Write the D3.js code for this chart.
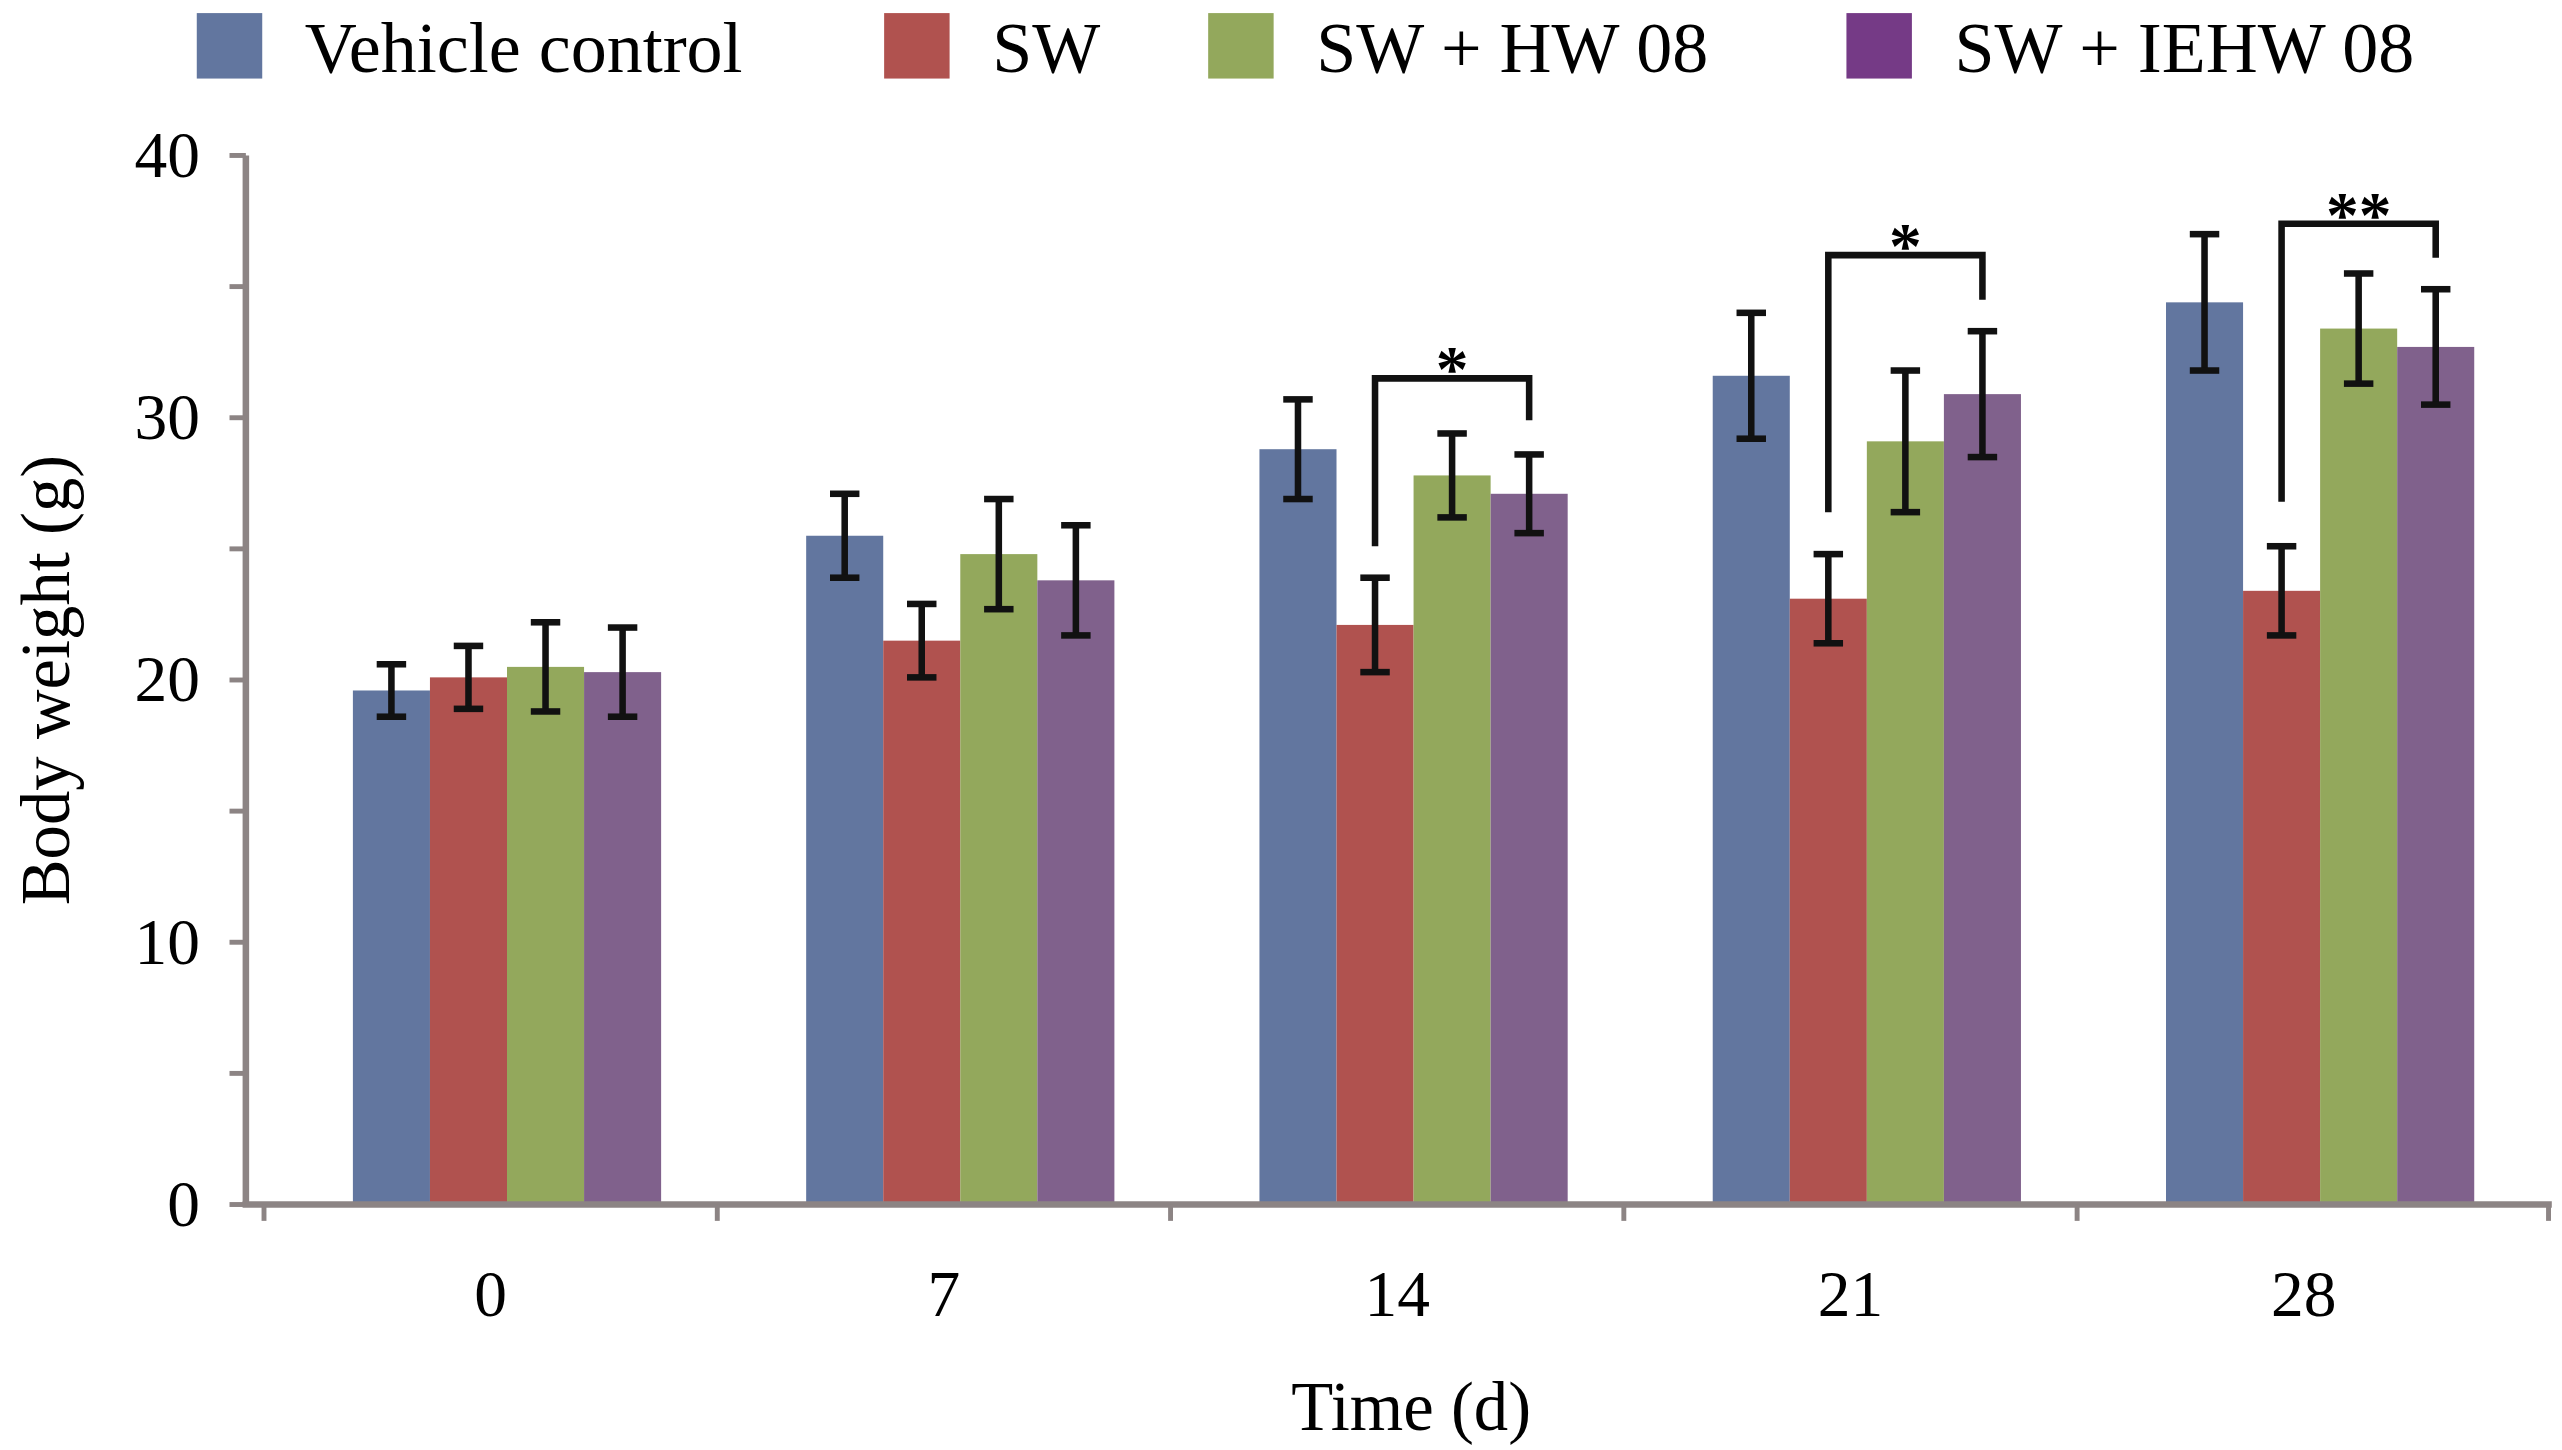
<!DOCTYPE html>
<html><head><meta charset="utf-8">
<script src="https://cdn.jsdelivr.net/npm/d3@7"></script>
<style>body{margin:0;background:#fff}svg{display:block}</style>
</head><body>
<svg id="chart" width="2562" height="1450" viewBox="0 0 1565 886"></svg>
<script>
const days = ['0', '7', '14', '21', '28'];
const groups = ['Vehicle control', 'SW', 'SW + HW 08', 'SW + IEHW 08'];
const colors = ['#62769f', '#b0524f', '#93a85c', '#80618c'];
const legendColors = ['#62769f', '#b0524f', '#93a85c', '#753a86'];
const means = [
    [19.6, 20.1, 20.5, 20.3],
    [25.5, 21.5, 24.8, 23.8],
    [28.8, 22.1, 27.8, 27.1],
    [31.6, 23.1, 29.1, 30.9],
    [34.4, 23.4, 33.4, 32.7]
];
const errors = [
    [1.0, 1.2, 1.7, 1.7],
    [1.6, 1.4, 2.1, 2.1],
    [1.9, 1.8, 1.6, 1.5],
    [2.4, 1.7, 2.7, 2.4],
    [2.6, 1.7, 2.1, 2.2]
];
// significance brackets: day index, left foot, top, right foot, label
const sigDay = [2, 3, 4];
const sigLeft = [25.1, 26.4, 26.8];
const sigTop = [31.5, 36.2, 37.4];
const sigRight = [29.9, 34.5, 36.1];
const sigLabel = ['*', '*', '**'];
const yTicks = [0, 10, 20, 30, 40];

const svg = d3.select('#chart');
const font = 'Liberation Serif, Times New Roman, serif';
const axisColor = '#8c8484';

const x = d3.scaleBand().domain(days).range([150, 1557]).paddingInner(0.32).paddingOuter(0.2);
const xs = d3.scaleBand().domain(groups).range([0, x.bandwidth()]);
const y = d3.scaleLinear().domain([0, 40]).range([736, 95]);
const shift = 10;

// bars
days.forEach((d, i) => {
    const g = svg.append('g').attr('transform', `translate(${x(d) + shift},0)`);
    groups.forEach((s, j) => {
        g.append('rect')
            .attr('x', xs(s)).attr('width', xs.bandwidth())
            .attr('y', y(means[i][j])).attr('height', y(0) - y(means[i][j]))
            .attr('fill', colors[j]);
    });
    groups.forEach((s, j) => {
        const cx = xs(s) + xs.bandwidth() / 2;
        const lo = y(means[i][j] - errors[i][j]), hi = y(means[i][j] + errors[i][j]);
        g.append('line').attr('x1', cx).attr('x2', cx).attr('y1', lo).attr('y2', hi)
            .attr('stroke', '#111').attr('stroke-width', 4);
        [lo, hi].forEach(v => g.append('line').attr('x1', cx - 9).attr('x2', cx + 9)
            .attr('y1', v).attr('y2', v).attr('stroke', '#111').attr('stroke-width', 4));
    });
});

// significance brackets
sigDay.forEach((di, k) => {
    const base = x(days[di]) + shift;
    const x1 = base + xs(groups[1]) + xs.bandwidth() / 2;
    const x2 = base + xs(groups[3]) + xs.bandwidth() / 2;
    svg.append('path')
        .attr('d', `M${x1},${y(sigLeft[k])}V${y(sigTop[k])}H${x2}V${y(sigRight[k])}`)
        .attr('fill', 'none').attr('stroke', '#111').attr('stroke-width', 4);
    svg.append('text').attr('x', (x1 + x2) / 2).attr('y', y(sigTop[k]) + 8)
        .attr('text-anchor', 'middle').attr('font-family', font).attr('font-size', 40)
        .attr('font-weight', 'bold').text(sigLabel[k]);
});

// y axis
svg.append('line').attr('x1', 150).attr('x2', 150).attr('y1', y(40)).attr('y2', y(0))
    .attr('stroke', axisColor).attr('stroke-width', 4);
d3.range(0, 41, 5).forEach(v => svg.append('line').attr('x1', 140).attr('x2', 150)
    .attr('y1', y(v)).attr('y2', y(v)).attr('stroke', axisColor).attr('stroke-width', 3));
yTicks.forEach(v => svg.append('text').attr('x', 122).attr('y', y(v) + 13)
    .attr('text-anchor', 'end').attr('font-family', font).attr('font-size', 40).text(v));

// x axis
svg.append('line').attr('x1', 148).attr('x2', 1559).attr('y1', y(0)).attr('y2', y(0))
    .attr('stroke', axisColor).attr('stroke-width', 4);
days.forEach((d, i) => {
    const left = x(d) - x.step() * x.paddingInner() / 2;
    svg.append('line').attr('x1', left).attr('x2', left).attr('y1', y(0)).attr('y2', y(0) + 10)
        .attr('stroke', axisColor).attr('stroke-width', 3);
    svg.append('text').attr('x', x(d) + shift - 10 + x.bandwidth() / 2).attr('y', 804)
        .attr('text-anchor', 'middle').attr('font-family', font).attr('font-size', 40).text(d);
});
svg.append('line').attr('x1', 1557).attr('x2', 1557).attr('y1', y(0)).attr('y2', y(0) + 10)
    .attr('stroke', axisColor).attr('stroke-width', 3);

// axis titles
svg.append('text').attr('x', 862).attr('y', 874).attr('text-anchor', 'middle')
    .attr('font-family', font).attr('font-size', 42).text('Time (d)');
svg.append('text').attr('transform', `translate(42,${(y(0) + y(40)) / 2}) rotate(-90)`)
    .attr('text-anchor', 'middle').attr('font-family', font).attr('font-size', 42).text('Body weight (g)');

// legend
const legendX = [120, 540, 738, 1128];
groups.forEach((s, j) => {
    svg.append('rect').attr('x', legendX[j]).attr('y', 8).attr('width', 40).attr('height', 40)
        .attr('fill', legendColors[j]);
    svg.append('text').attr('x', legendX[j] + 66).attr('y', 44)
        .attr('font-family', font).attr('font-size', 44).text(s);
});
</script>
</body></html>
